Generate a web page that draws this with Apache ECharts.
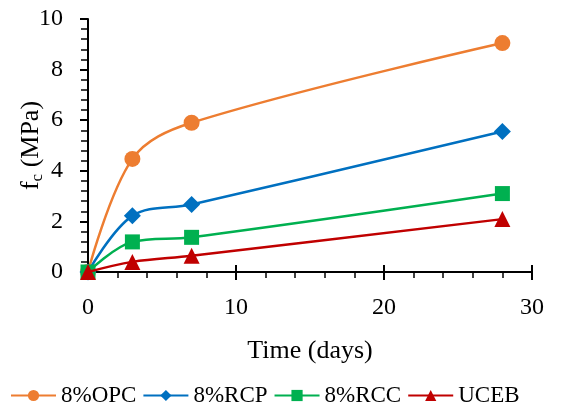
<!DOCTYPE html>
<html><head><meta charset="utf-8">
<script src="https://cdn.jsdelivr.net/npm/echarts@6/dist/echarts.min.js"></script>
<style>html,body{margin:0;padding:0;background:#fff}#c{width:577px;height:408px}</style>
</head><body><div id="c"></div>
<script>
const days = [0, 3, 7, 28];
const opc  = [0, 4.47, 5.9, 9.05];
const rcp  = [0, 2.22, 2.67, 5.55];
const rcc  = [0, 1.19, 1.37, 3.1];
const uceb = [0, 0.4, 0.64, 2.09];
const names = ['8%OPC', '8%RCP', '8%RCC', 'UCEB'];
const xTicks = [0, 10, 20, 30];
const yTicks = [0, 2, 4, 6, 8, 10];

const FONT = 'Liberation Serif';
const colors = ['#ED7D31', '#0070C0', '#00B050', '#C00000'];
const symbols = ['circle', 'diamond', 'rect', 'triangle'];
const sizes = [16, 17, 15, 16];
const vals = [opc, rcp, rcc, uceb];

const chart = echarts.init(document.getElementById('c'), null, {renderer: 'canvas'});
chart.setOption({
  animation: false,
  textStyle: {fontFamily: FONT},
  grid: {left: 88, right: 45, top: 19, bottom: 136, containLabel: false, outerBoundsMode: 'none'},
  legend: {
    top: 379, left: 5,
    itemWidth: 45, itemHeight: 14, itemGap: 6,
    textStyle: {fontFamily: FONT, fontSize: 23, color: '#000'},
    data: names
  },
  xAxis: [{
    type: 'value', min: xTicks[0], max: xTicks[xTicks.length - 1], interval: 10,
    name: 'Time (days)', nameLocation: 'middle', nameGap: 66, nameMoveOverlap: false,
    nameTextStyle: {fontFamily: FONT, fontSize: 26, color: '#000'},
    axisLine: {onZero: false, lineStyle: {color: '#000', width: 2}},
    axisTick: {show: true, length: 8, lineStyle: {color: '#000', width: 2}},
    minorTick: {show: true, splitNumber: 5, length: 6, lineStyle: {color: '#000', width: 1.5}},
    axisLabel: {fontFamily: FONT, fontSize: 24, color: '#000', margin: 24},
    splitLine: {show: false}
  }, {
    type: 'value', min: 0, max: 30, interval: 10, position: 'bottom',
    axisLine: {show: false},
    axisTick: {show: true, inside: true, length: 7, lineStyle: {color: '#000', width: 2}},
    axisLabel: {show: false}, splitLine: {show: false}
  }],
  yAxis: {
    type: 'value', min: yTicks[0], max: yTicks[yTicks.length - 1], interval: 2,
    name: '{a|f}{b|c}{a| (MPa)}', nameLocation: 'middle', nameGap: 42, nameRotate: 90,
    nameMoveOverlap: false,
    nameTextStyle: {
      rich: {
        a: {fontFamily: FONT, fontSize: 26, color: '#000'},
        b: {fontFamily: FONT, fontSize: 17, color: '#000', verticalAlign: 'bottom', padding: [12, 0, 0, 0]}
      }
    },
    axisLine: {onZero: false, lineStyle: {color: '#000', width: 2}},
    axisTick: {show: true, length: 8, lineStyle: {color: '#000', width: 2}},
    minorTick: {show: true, splitNumber: 5, length: 7, lineStyle: {color: '#000', width: 1.5}},
    axisLabel: {fontFamily: FONT, fontSize: 24, color: '#000', margin: 25},
    splitLine: {show: false}
  },
  series: names.map((n, i) => ({
    name: n, type: 'line', smooth: 0.35,
    data: days.map((d, j) => [d, vals[i][j]]),
    symbol: symbols[i], symbolSize: sizes[i],
    itemStyle: {color: colors[i]},
    lineStyle: {color: colors[i], width: 2.5},
    z: 2 + i
  }))
});
</script></body></html>
